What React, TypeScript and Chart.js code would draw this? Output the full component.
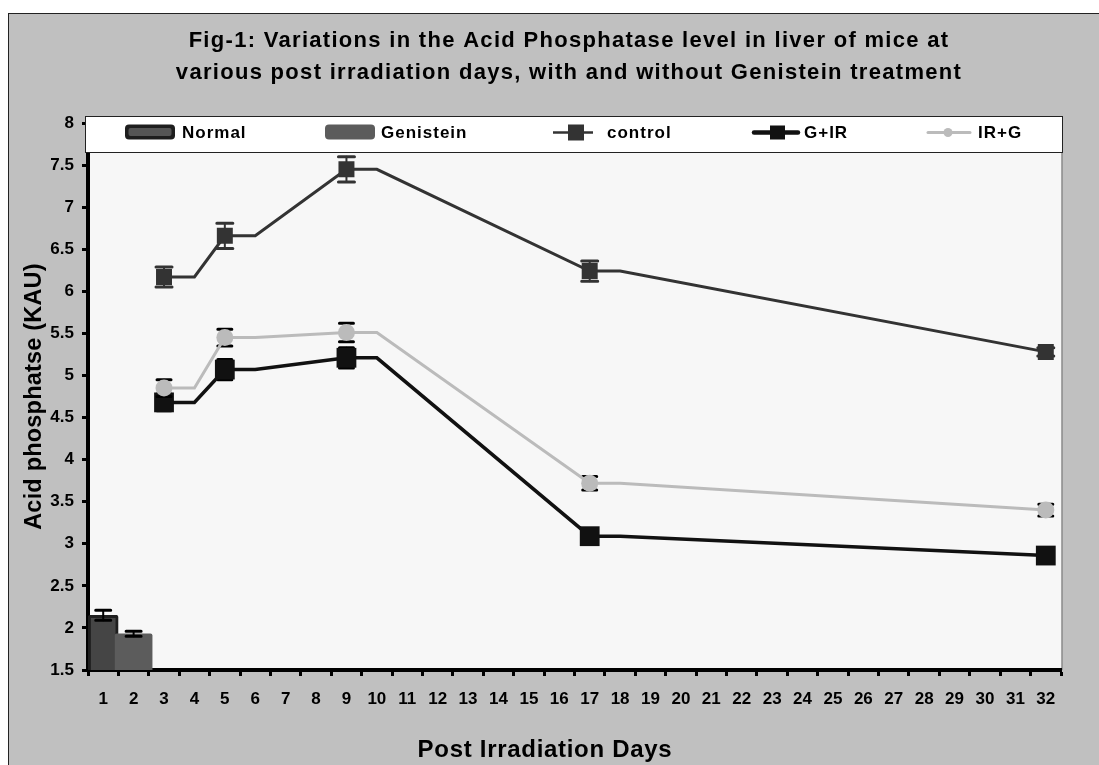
import React, { useEffect, useRef } from 'react';
import { Chart, registerables } from 'chart.js';

Chart.register(...registerables);

// ---------- data ----------
const titleLines = [
  'Fig-1: Variations in the Acid Phosphatase level in liver of mice at',
  'various post irradiation days, with and without Genistein treatment',
];
const xAxisTitle = 'Post Irradiation Days';
const yAxisTitle = 'Acid phosphatse (KAU)';

const categories = [
  '1', '2', '3', '4', '5', '6', '7', '8', '9', '10', '11', '12', '13', '14', '15', '16',
  '17', '18', '19', '20', '21', '22', '23', '24', '25', '26', '27', '28', '29', '30', '31', '32',
];

const seriesLabels = ['Normal', 'Genistein', 'control', 'G+IR', 'IR+G'];

// bar series
const normalDay = ['1'];
const normalValues = [2.15];
const normalErrors = [0.06];
const genisteinDay = ['2'];
const genisteinValues = [1.93];
const genisteinErrors = [0.03];

// line series (marker days and the category where each flat shoulder ends)
const lineDays = ['3', '5', '9', '17', '32'];
const shoulderEnds = ['4', '6', '10', '18'];
const controlValues = [6.17, 6.66, 7.45, 6.24, 5.28];
const controlErrors = [0.12, 0.15, 0.15, 0.12, 0.05];
const gIrValues = [4.68, 5.07, 5.21, 3.09, 2.86];
const gIrErrors = [0.1, 0.12, 0.12, 0.05, 0.05];
const irGValues = [4.85, 5.45, 5.51, 3.72, 3.4];
const irGErrors = [0.1, 0.1, 0.11, 0.08, 0.07];

const yMin = 1.5;
const yMax = 8;
const yStep = 0.5;

const FONT = '"Liberation Sans", Arial, sans-serif';

type Pt = { x: string; y: number; err?: number; marker: boolean };

function buildLine(values: number[], errors: number[]): Pt[] {
  const out: Pt[] = [];
  lineDays.forEach((d, i) => {
    out.push({ x: d, y: values[i], err: errors[i], marker: true });
    if (shoulderEnds[i]) out.push({ x: shoulderEnds[i], y: values[i], marker: false });
  });
  return out;
}

function buildBar(days: string[], values: number[], errors: number[]): Pt[] {
  return days.map((d, i) => ({ x: d, y: values[i], err: errors[i], marker: true }));
}

function roundRect(ctx: CanvasRenderingContext2D, x: number, y: number, w: number, h: number, r: number) {
  ctx.beginPath();
  ctx.moveTo(x + r, y);
  ctx.lineTo(x + w - r, y);
  ctx.quadraticCurveTo(x + w, y, x + w, y + r);
  ctx.lineTo(x + w, y + h - r);
  ctx.quadraticCurveTo(x + w, y + h, x + w - r, y + h);
  ctx.lineTo(x + r, y + h);
  ctx.quadraticCurveTo(x, y + h, x, y + h - r);
  ctx.lineTo(x, y + r);
  ctx.quadraticCurveTo(x, y, x + r, y);
  ctx.closePath();
}

function drawErrors(chart: any, meta: any, ds: any) {
  const ctx = chart.ctx as CanvasRenderingContext2D;
  const yScale = chart.scales.y;
  ctx.save();
  ctx.strokeStyle = ds.errColor || '#000';
  ctx.lineCap = 'round';
  meta.data.forEach((el: any, i: number) => {
    const raw = ds.data[i];
    if (!raw || raw.err == null) return;
    const x = el.x;
    const yT = yScale.getPixelForValue(raw.y + raw.err);
    const yB = yScale.getPixelForValue(raw.y - raw.err);
    const half = (ds.capWidth || 14) / 2;
    ctx.lineWidth = 2;
    ctx.beginPath();
    ctx.moveTo(x, yT);
    ctx.lineTo(x, yB);
    ctx.stroke();
    ctx.lineWidth = 3;
    ctx.beginPath();
    ctx.moveTo(x - half, yT);
    ctx.lineTo(x + half, yT);
    ctx.moveTo(x - half, yB);
    ctx.lineTo(x + half, yB);
    ctx.stroke();
  });
  ctx.restore();
}

const errorBarPlugin = {
  id: 'errorBars',
  beforeDatasetDraw(chart: any, args: any) {
    const ds = chart.data.datasets[args.index];
    if (ds.type === 'line') drawErrors(chart, args.meta, ds);
  },
  afterDatasetDraw(chart: any, args: any) {
    const ds = chart.data.datasets[args.index];
    if (ds.type !== 'line') drawErrors(chart, args.meta, ds);
  },
};

const backgroundPlugin = {
  id: 'frameBg',
  beforeDraw(chart: any) {
    const ctx = chart.ctx as CanvasRenderingContext2D;
    const a = chart.chartArea;
    ctx.save();
    ctx.fillStyle = '#ffffff';
    ctx.fillRect(0, 0, chart.width, chart.height);
    ctx.fillStyle = '#c0c0c0';
    ctx.fillRect(8.5, 13.5, chart.width, chart.height);
    ctx.strokeStyle = '#222';
    ctx.lineWidth = 1;
    ctx.strokeRect(8.5, 13.5, chart.width, chart.height);
    ctx.fillStyle = '#f7f7f7';
    ctx.fillRect(a.left, a.top, a.right - a.left + 1, a.bottom - a.top);
    ctx.strokeStyle = '#8a8a8a';
    ctx.lineWidth = 1.5;
    ctx.beginPath();
    ctx.moveTo(a.right + 1, a.top);
    ctx.lineTo(a.right + 1, a.bottom);
    ctx.stroke();
    ctx.restore();
  },
};

const textPlugin = {
  id: 'texts',
  afterDraw(chart: any) {
    const ctx = chart.ctx as CanvasRenderingContext2D;
    const a = chart.chartArea;
    ctx.save();
    ctx.fillStyle = '#000';
    // main title
    (ctx as any).letterSpacing = '1.3px';
    ctx.font = `bold 22px ${FONT}`;
    ctx.textAlign = 'center';
    ctx.textBaseline = 'alphabetic';
    ctx.fillText(titleLines[0], 569, 47);
    ctx.fillText(titleLines[1], 569, 79);

    // axis titles
    (ctx as any).letterSpacing = '0.7px';
    ctx.font = `bold 24px ${FONT}`;
    ctx.fillText(xAxisTitle, 545, 757);
    (ctx as any).letterSpacing = '0.2px';
    ctx.font = `bold 23.5px ${FONT}`;
    ctx.save();
    ctx.translate(41, (a.top + a.bottom) / 2);
    ctx.rotate(-Math.PI / 2);
    ctx.fillText(yAxisTitle, 0, 0);
    ctx.restore();

    // legend box
    (ctx as any).letterSpacing = '0px';
    ctx.fillStyle = '#ffffff';
    ctx.fillRect(85.5, 116.5, 977, 36);
    ctx.strokeStyle = '#222';
    ctx.lineWidth = 1;
    ctx.strokeRect(85.5, 116.5, 977, 36);

    const cy = 132.5;
    // Normal swatch
    ctx.fillStyle = '#1e1e1e';
    roundRect(ctx, 125, 124.5, 50, 15, 4);
    ctx.fill();
    ctx.fillStyle = '#555555';
    roundRect(ctx, 128.5, 128, 43, 8, 2);
    ctx.fill();
    // Genistein swatch
    ctx.fillStyle = '#5c5c5c';
    roundRect(ctx, 325, 124.5, 50, 15, 4);
    ctx.fill();
    // control
    ctx.strokeStyle = '#333333';
    ctx.lineWidth = 2.5;
    ctx.beginPath();
    ctx.moveTo(553, cy);
    ctx.lineTo(593, cy);
    ctx.stroke();
    ctx.fillStyle = '#333333';
    ctx.fillRect(568, cy - 8, 16, 16);
    // G+IR
    ctx.strokeStyle = '#111111';
    ctx.lineWidth = 4.5;
    ctx.lineCap = 'round';
    ctx.beginPath();
    ctx.moveTo(754, cy);
    ctx.lineTo(798, cy);
    ctx.stroke();
    ctx.fillStyle = '#111111';
    ctx.fillRect(770, cy - 7, 15, 14);
    // IR+G
    ctx.strokeStyle = '#bbbbbb';
    ctx.lineWidth = 3;
    ctx.beginPath();
    ctx.moveTo(928, cy);
    ctx.lineTo(970, cy);
    ctx.stroke();
    ctx.fillStyle = '#bbbbbb';
    ctx.beginPath();
    ctx.arc(948, cy, 4.5, 0, Math.PI * 2);
    ctx.fill();

    // legend texts
    ctx.fillStyle = '#000';
    ctx.font = `bold 17px ${FONT}`;
    (ctx as any).letterSpacing = '1px';
    ctx.textAlign = 'left';
    ctx.textBaseline = 'middle';
    const textX = [182, 381, 607, 804, 978];
    seriesLabels.forEach((t, i) => ctx.fillText(t, textX[i], cy + 1));
    ctx.restore();
  },
};

export default function App() {
  const ref = useRef<HTMLCanvasElement | null>(null);

  useEffect(() => {
    if (!ref.current) return;
    const chart = new Chart(ref.current, {
      type: 'bar',
      data: {
        labels: categories,
        datasets: [
          {
            type: 'bar',
            label: seriesLabels[0],
            data: buildBar(normalDay, normalValues, normalErrors) as any,
            backgroundColor: '#454545',
            borderColor: '#1e1e1e',
            borderWidth: 3,
            borderRadius: 2,
            borderSkipped: 'bottom',
            grouped: false,
            barThickness: 30,
            order: 5,
            capWidth: 15,
            errColor: '#000',
          } as any,
          {
            type: 'bar',
            label: seriesLabels[1],
            data: buildBar(genisteinDay, genisteinValues, genisteinErrors) as any,
            backgroundColor: '#5c5c5c',
            borderWidth: 0,
            borderRadius: 2,
            borderSkipped: 'bottom',
            grouped: false,
            barThickness: 37,
            order: 4,
            capWidth: 15,
            errColor: '#000',
          } as any,
          {
            type: 'line',
            label: seriesLabels[2],
            data: buildLine(controlValues, controlErrors) as any,
            borderColor: '#333333',
            backgroundColor: '#333333',
            borderWidth: 3,
            pointStyle: 'rect',
            pointRadius: (c: any) => (c.raw && c.raw.marker ? 11.3 : 0),
            pointBorderWidth: 0,
            tension: 0,
            order: 3,
            capWidth: 16,
            errColor: '#333333',
          } as any,
          {
            type: 'line',
            label: seriesLabels[3],
            data: buildLine(gIrValues, gIrErrors) as any,
            borderColor: '#111111',
            backgroundColor: '#111111',
            borderWidth: 3.5,
            pointStyle: 'rect',
            pointRadius: (c: any) => (c.raw && c.raw.marker ? 14 : 0),
            pointBorderWidth: 0,
            tension: 0,
            order: 2,
            capWidth: 14,
            errColor: '#000',
          } as any,
          {
            type: 'line',
            label: seriesLabels[4],
            data: buildLine(irGValues, irGErrors) as any,
            borderColor: '#bbbbbb',
            backgroundColor: '#bbbbbb',
            borderWidth: 3,
            pointStyle: 'circle',
            pointRadius: (c: any) => (c.raw && c.raw.marker ? 8.5 : 0),
            pointBorderWidth: 0,
            tension: 0,
            order: 1,
            capWidth: 14,
            errColor: '#000',
          } as any,
        ],
      },
      options: {
        responsive: false,
        animation: false,
        devicePixelRatio: 1,
        layout: { padding: { left: 0, top: 123, right: 38, bottom: 0 } },
        plugins: {
          legend: { display: false },
          title: { display: false },
          tooltip: { enabled: false },
        },
        scales: {
          x: {
            type: 'category',
            offset: true,
            grid: {
              display: true,
              drawOnChartArea: false,
              drawTicks: true,
              tickLength: 6,
              tickWidth: 3,
              tickColor: '#000',
              offset: true,
            },
            border: { display: true, width: 4, color: '#000' },
            ticks: {
              autoSkip: false,
              maxRotation: 0,
              minRotation: 0,
              padding: 13,
              color: '#000',
              font: { family: FONT, size: 17, weight: 'bold' },
            },
            afterFit: (s: any) => {
              s.height = 95;
            },
          },
          y: {
            type: 'linear',
            min: yMin,
            max: yMax,
            grid: {
              display: true,
              drawOnChartArea: false,
              drawTicks: true,
              tickLength: 6,
              tickWidth: 3,
              tickColor: '#000',
            },
            border: { display: true, width: 4, color: '#000' },
            ticks: {
              stepSize: yStep,
              padding: 8,
              color: '#000',
              font: { family: FONT, size: 17, weight: 'bold' },
              callback: (v: any) => String(v),
            },
            afterFit: (s: any) => {
              s.width = 88;
            },
          },
        },
      } as any,
      plugins: [backgroundPlugin, errorBarPlugin, textPlugin],
    });
    return () => chart.destroy();
  }, []);

  return (
    <div style={{ position: 'fixed', left: 0, top: 0, width: 1099, height: 765 }}>
      <canvas ref={ref} width={1099} height={765} style={{ display: 'block', width: 1099, height: 765 }} />
    </div>
  );
}
